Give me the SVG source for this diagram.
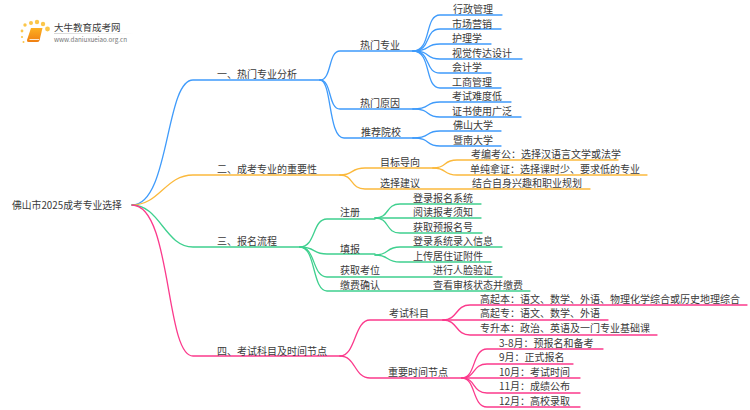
<svg xmlns="http://www.w3.org/2000/svg" width="750" height="410" viewBox="0 0 750 410">
<defs>
<linearGradient id="rule" x1="0" x2="1" y1="0" y2="0"><stop offset="0" stop-color="#ccc"/><stop offset="1" stop-color="#ccc" stop-opacity="0"/></linearGradient>
<linearGradient id="bookFill" x1="0" x2="0" y1="0" y2="1"><stop offset="0" stop-color="#fdb022"/><stop offset="1" stop-color="#ef7f12"/></linearGradient>
</defs>
<style>
text{font-family:"Noto Sans CJK SC","Liberation Sans",sans-serif;font-size:10px;fill:#3a3a3a}
.l{fill:none;stroke-width:1.3;stroke-linecap:round}
.b{stroke:#3f9bfb}.o{stroke:#fbb93c}.g{stroke:#3fd08f}.p{stroke:#fb3a8c}
.d{fill:#fbc64a}
</style>
<rect width="750" height="410" fill="#fff"/>
<g id="logo">
<circle class="d" cx="25" cy="25" r="1.7"/><circle class="d" cx="31" cy="23" r="2"/><circle class="d" cx="37" cy="22" r="2.2"/><circle class="d" cx="43" cy="24" r="2.2"/><circle class="d" cx="47.500" cy="29" r="2.400"/>
<circle class="d" cx="22" cy="31" r="1.400"/><circle class="d" cx="22" cy="37" r="1.100"/><circle class="d" cx="23.500" cy="42" r="1"/>
<path d="M31 28H42.500L39.500 40.500Q39 42 37 42H28.500Q26.500 42 27 40Z" fill="url(#bookFill)"/>
<path d="M29.500 39.500H39" stroke="#fff" stroke-width="0.800" fill="none"/>
<rect x="54" y="33" width="80" height="0.800" fill="url(#rule)"/>
<text x="54" y="31" style="font-size:9.500px">大牛教育成考网</text>
<text x="54" y="41.500" style="font-size:6.300px;fill:#777">www.daniuxueiao.org.cn</text>
</g>
<g id="connectors">
<path class="l b" d="M132 205C170 205 165 80 193 80H320"/>
<path class="l o" d="M132 205C160 205 165 175 193 175H340"/>
<path class="l g" d="M132 205C160 205 165 247 193 247H300"/>
<path class="l p" d="M132 205C172 205 165 356 193 356H340"/>
<path class="l b" d="M320 80C332 80 328 51 340 51H413"/>
<path class="l b" d="M320 80C332 80 328 109 340 109H413"/>
<path class="l b" d="M320 80C332 80 328 138 344 138H413"/>
<path class="l b" d="M413 51C432 51 424 15 440 15H502"/>
<path class="l b" d="M413 51C432 51 424 29 440 29H501"/>
<path class="l b" d="M413 51C432 51 424 44 440 44H491"/>
<path class="l b" d="M413 51C432 51 424 59 440 59H522"/>
<path class="l b" d="M413 51C432 51 424 73 440 73H491"/>
<path class="l b" d="M413 51C432 51 424 88 440 88H501"/>
<path class="l b" d="M413 109C432 109 424 102 440 102H511"/>
<path class="l b" d="M413 109C432 109 424 117 440 117H521"/>
<path class="l b" d="M413 138C432 138 424 131 440 131H501"/>
<path class="l b" d="M413 138C432 138 424 146 440 146H501"/>
<path class="l o" d="M340 175C354 175 350 168 365 168H433"/>
<path class="l o" d="M340 175C354 175 350 189 365 189H590"/>
<path class="l o" d="M433 168C448 168 442 160 457 160H618"/>
<path class="l o" d="M433 168C448 168 442 175 457 175H647"/>
<path class="l g" d="M300 247C316 247 312 219 327 219H375"/>
<path class="l g" d="M300 247C316 247 312 254 327 254H375"/>
<path class="l g" d="M300 247C316 247 312 277 327 277H502"/>
<path class="l g" d="M300 247C316 247 312 291 327 291H530"/>
<path class="l g" d="M375 218C390 218 385 204 400 204H481"/>
<path class="l g" d="M375 218H481"/>
<path class="l g" d="M375 218C390 218 385 233 400 233H482"/>
<path class="l g" d="M375 255C390 255 385 247 400 247H502"/>
<path class="l g" d="M375 255C390 255 385 262 400 262H491"/>
<path class="l p" d="M340 356C356 356 354 320 370 320H443"/>
<path class="l p" d="M340 356C356 356 354 378 370 378H462"/>
<path class="l p" d="M443 320C458 320 455 305 470 305H747"/>
<path class="l p" d="M443 320H608"/>
<path class="l p" d="M443 320C458 320 455 335 470 335H657"/>
<path class="l p" d="M462 378C476 378 472 349 487 349H603"/>
<path class="l p" d="M462 378C476 378 472 364 487 364H573"/>
<path class="l p" d="M462 378H580"/>
<path class="l p" d="M462 378C476 378 472 393 487 393H580"/>
<path class="l p" d="M462 378C476 378 472 407 487 407H580"/>
</g>
<g id="root"><text x="12" y="209" style="font-size:9.800px">佛山市2025成考专业选择</text></g>
<g id="n1"><text x="217" y="78">一、热门专业分析</text></g>
<g id="n1-1"><text x="360" y="49">热门专业</text></g>
<g id="n1-1-1"><text x="453" y="13">行政管理</text></g>
<g id="n1-1-2"><text x="452" y="27.500">市场营销</text></g>
<g id="n1-1-3"><text x="452" y="42">护理学</text></g>
<g id="n1-1-4"><text x="452" y="56.500">视觉传达设计</text></g>
<g id="n1-1-5"><text x="452" y="71">会计学</text></g>
<g id="n1-1-6"><text x="452" y="85.500">工商管理</text></g>
<g id="n1-2"><text x="360" y="107">热门原因</text></g>
<g id="n1-2-1"><text x="452" y="100">考试难度低</text></g>
<g id="n1-2-2"><text x="452" y="115">证书使用广泛</text></g>
<g id="n1-3"><text x="361" y="136">推荐院校</text></g>
<g id="n1-3-1"><text x="453" y="129">佛山大学</text></g>
<g id="n1-3-2"><text x="453" y="144">暨南大学</text></g>
<g id="n2"><text x="217" y="173">二、成考专业的重要性</text></g>
<g id="n2-1"><text x="380" y="165.500">目标导向</text></g>
<g id="n2-1-1"><text x="471" y="158">考编考公：选择汉语言文学或法学</text></g>
<g id="n2-1-2"><text x="470" y="173">单纯拿证：选择课时少、要求低的专业</text></g>
<g id="n2-2"><text x="380" y="187">选择建议</text></g>
<g id="n2-2-1"><text x="472" y="187">结合自身兴趣和职业规划</text></g>
<g id="n3"><text x="217" y="245">三、报名流程</text></g>
<g id="n3-1"><text x="340" y="216">注册</text></g>
<g id="n3-1-1"><text x="413" y="202">登录报名系统</text></g>
<g id="n3-1-2"><text x="413" y="216">阅读报考须知</text></g>
<g id="n3-1-3"><text x="413" y="231">获取预报名号</text></g>
<g id="n3-2"><text x="340" y="253">填报</text></g>
<g id="n3-2-1"><text x="413" y="245">登录系统录入信息</text></g>
<g id="n3-2-2"><text x="413" y="260">上传居住证附件</text></g>
<g id="n3-3"><text x="340" y="274">获取考位</text></g>
<g id="n3-3-1"><text x="433" y="274">进行人脸验证</text></g>
<g id="n3-4"><text x="340" y="289">缴费确认</text></g>
<g id="n3-4-1"><text x="433" y="289">查看审核状态并缴费</text></g>
<g id="n4"><text x="217" y="355">四、考试科目及时间节点</text></g>
<g id="n4-1"><text x="389" y="317">考试科目</text></g>
<g id="n4-1-1"><text x="480" y="303">高起本：语文、数学、外语、物理化学综合或历史地理综合</text></g>
<g id="n4-1-2"><text x="480" y="317">高起专：语文、数学、外语</text></g>
<g id="n4-1-3"><text x="480" y="332">专升本：政治、英语及一门专业基础课</text></g>
<g id="n4-2"><text x="388" y="376">重要时间节点</text></g>
<g id="n4-2-1"><text x="499" y="347">3-8月：预报名和备考</text></g>
<g id="n4-2-2"><text x="499" y="361">9月：正式报名</text></g>
<g id="n4-2-3"><text x="499" y="376">10月：考试时间</text></g>
<g id="n4-2-4"><text x="499" y="390">11月：成绩公布</text></g>
<g id="n4-2-5"><text x="499" y="405">12月：高校录取</text></g>
</svg>
